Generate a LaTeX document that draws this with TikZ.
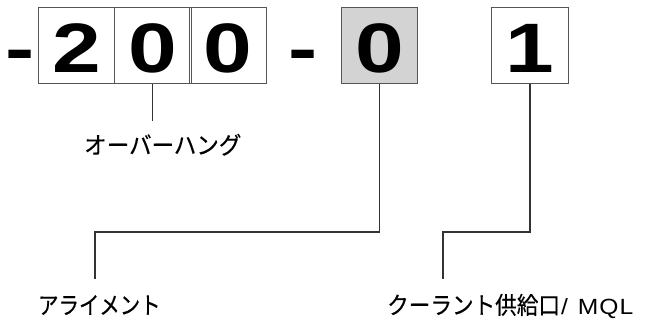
\documentclass[tikz,border=0pt]{standalone}
\usepackage{fontspec}
\newfontfamily\digitfont{Liberation Sans}[FakeStretch=1.25]
\newfontfamily\jp{Noto Sans CJK JP}[FakeStretch=0.85,FakeBold=0.4]
\newfontfamily\jpm{Noto Sans CJK JP}[FakeStretch=0.9,FakeBold=0.4]
\newfontfamily\jpw{Noto Sans CJK JP}[FakeStretch=0.94,FakeBold=0.4]
\newfontfamily\lat{Liberation Sans}[FakeStretch=1.12]
\definecolor{boxline}{HTML}{555555}
\definecolor{boxgray}{HTML}{D3D3D3}
\definecolor{leader}{HTML}{333333}
\begin{document}
\begin{tikzpicture}[x=1pt,y=-1pt,
  cell/.style={draw=boxline,line width=1pt,minimum width=76.5pt,minimum height=75.5pt,inner sep=0pt},
  digit/.style={anchor=base,inner sep=0pt,font=\digitfont\bfseries\fontsize{70}{70}\selectfont},
  lab/.style={inner sep=0pt,anchor=base west,font=\jp\fontsize{24}{24}\selectfont},
  leadline/.style={draw=leader,line width=1.2pt}]
\useasboundingbox (0,0) rectangle (646,327);
% boxes
\node[cell] (c1) at (76.5,45.25) {};
\node[cell] (c2) at (152.75,45.25) {};
\node[cell] (c3) at (228,45.25) {};
\node[cell,fill=boxgray] (g) at (379.5,45.25) {};
\node[cell] (o) at (530,45.25) {};
% digits and dashes
\node[digit] (d0) at (20,72) {-};
\node[digit] (d1) at (c1.center |- 0,72) {2};
\node[digit] (d2) at (c2.center |- 0,72) {0};
\node[digit] (d3) at (c3.center |- 0,72) {0};
\node[digit] (d4) at (303,72) {-};
\node[digit] (d5) at (g.center |- 0,72) {0};
\node[digit] (d6) at (o.center |- 0,72) {1};
% labels
\node[lab,font=\jpw\fontsize{24}{24}\selectfont] (l1) at (84,154) {オーバーハング};
\node[lab] (l2) at (38,314) {アライメント};
\node[lab,font=\jpm\fontsize{24}{24}\selectfont] (l3) at (387,314) {クーラント供給口{\lat\fontsize{22}{22}\selectfont\hspace{1pt}/\hspace{10pt}M\hspace{1pt}Q\hspace{1pt}L}};
% leaders
\coordinate (e1) at (c2.south |- 0,121);
\coordinate (a0) at (95,232);
\coordinate (a1) at (95,279);
\coordinate (b0) at (443,232);
\coordinate (b1) at (443,279);
\draw[leadline] (c2.south) -- (e1);
\draw[leadline] (g.south) |- (a0) -- (a1);
\draw[leadline] (o.south) |- (b0) -- (b1);
\end{tikzpicture}
\end{document}
